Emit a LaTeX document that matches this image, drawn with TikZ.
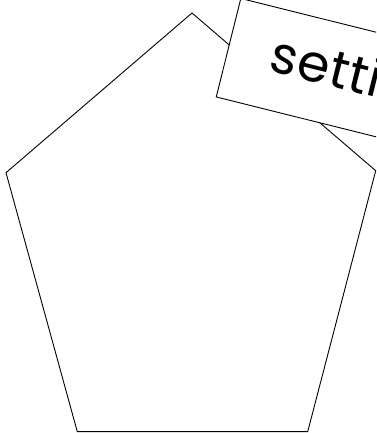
\documentclass[tikz,border=0pt]{standalone}
\usepackage{fontspec}
\setmainfont{Poppins}[LetterSpace=1.5]
\usetikzlibrary{positioning}

\begin{document}
\begin{tikzpicture}[x=1pt, y=1pt, line width=0.9pt,
    card/.style={draw, fill=white, rotate=-14, anchor=south west, align=left,
      text width=300pt, inner xsep=43pt, inner ysep=0pt,
      text height=63.5pt, text depth=38pt, font=\fontsize{52}{60}\selectfont}]
            \useasboundingbox (0,0) rectangle (376,433);
            \clip (0,0) rectangle (376,433);
            \begin{scope}[shift={(0,0)}]
                \coordinate (top) at (192,420);
                \coordinate (right) at (375.7,262.3);
                \coordinate (lowright) at (307.7,1.3);
                \coordinate (lowleft) at (77.3,1.3);
                \coordinate (left) at (6,260.3);

                \draw (top) -- (right) -- (lowright) -- (lowleft) -- (left) -- cycle;
            \end{scope}
            \node[card] (setting) at (215.7,335.7) {setting};
        \end{tikzpicture}
\end{document}
